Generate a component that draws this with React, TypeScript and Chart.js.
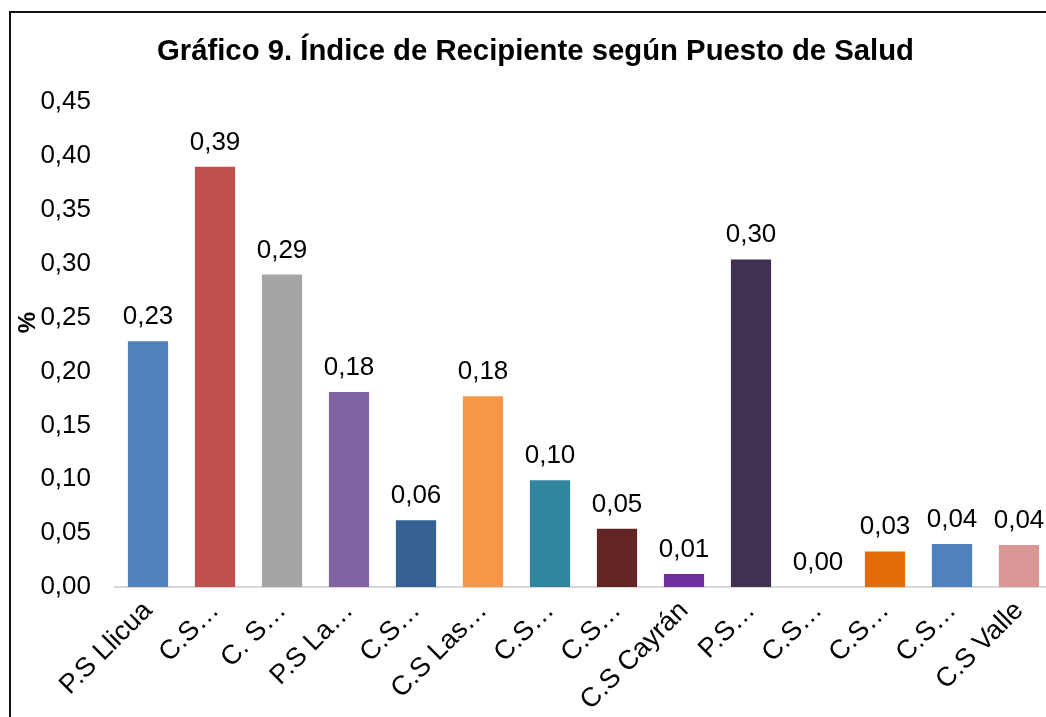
import React, { useEffect, useRef } from "react";
import { Chart, registerables } from "chart.js";

Chart.register(...registerables);

const titleText = "Gráfico 9. Índice de Recipiente según Puesto de Salud";
const yAxisTitle = "%";
const categories = [
  "P.S Llicua",
  "C.S…",
  "C. S…",
  "P.S La…",
  "C.S…",
  "C.S Las…",
  "C.S…",
  "C.S…",
  "C.S Cayrán",
  "P.S…",
  "C.S…",
  "C.S…",
  "C.S…",
  "C.S Valle",
];
const values = [0.228, 0.39, 0.29, 0.181, 0.062, 0.177, 0.099, 0.054, 0.012, 0.304, 0.0, 0.033, 0.04, 0.039];
const barColors = [
  "#4F81BD",
  "#C0504D",
  "#A5A5A5",
  "#8064A2",
  "#366092",
  "#F79646",
  "#31859C",
  "#632523",
  "#7030A0",
  "#403152",
  "#4BACC6",
  "#E36C09",
  "#4F81BD",
  "#D99694",
];
const yMin = 0;
const yMax = 0.45;
const yStep = 0.05;

const FONT = "'Liberation Sans', Arial, sans-serif";
const fmt = (v: number) => v.toFixed(2).replace(".", ",");

const dataLabelPlugin = {
  id: "dataLabels",
  afterDatasetsDraw(chart: any) {
    const ctx = chart.ctx;
    const meta = chart.getDatasetMeta(0);
    ctx.save();
    ctx.font = `26px ${FONT}`;
    ctx.fillStyle = "#000";
    ctx.textAlign = "center";
    ctx.textBaseline = "alphabetic";
    meta.data.forEach((el: any, i: number) => {
      ctx.fillText(fmt(values[i]), el.x, el.y - 17);
    });
    ctx.restore();
  },
};

const yTitlePlugin = {
  id: "yTitle",
  afterDraw(chart: any) {
    const ctx = chart.ctx;
    const area = chart.chartArea;
    ctx.save();
    ctx.font = `bold 24px ${FONT}`;
    ctx.fillStyle = "#000";
    ctx.textAlign = "center";
    ctx.textBaseline = "middle";
    ctx.translate(28, (area.top + area.bottom) / 2 - 22);
    ctx.rotate(-Math.PI / 2);
    ctx.fillText(yAxisTitle, 0, 0);
    ctx.restore();
  },
};

export default function App() {
  const ref = useRef<HTMLCanvasElement | null>(null);
  useEffect(() => {
    if (!ref.current) return;
    const chart = new Chart(ref.current, {
      type: "bar",
      data: {
        labels: categories,
        datasets: [
          {
            data: values,
            backgroundColor: barColors,
            borderWidth: 0,
            barPercentage: 0.6,
            categoryPercentage: 1,
          },
        ],
      },
      options: {
        animation: false,
        responsive: false,
        maintainAspectRatio: false,
        layout: { padding: { left: 18.5, right: 7.5, top: 0, bottom: 0 } },
        plugins: {
          legend: { display: false },
          tooltip: { enabled: false },
          title: {
            display: true,
            text: titleText,
            color: "#000",
            font: { family: FONT, size: 29.3, weight: "bold" },
            padding: { top: 34, bottom: 33 },
          },
        },
        scales: {
          x: {
            grid: { display: false, drawTicks: false },
            border: { display: true, color: "#D9D9D9", width: 2 },
            ticks: {
              color: "#000",
              font: { family: FONT, size: 27 },
              minRotation: 45,
              maxRotation: 45,
              autoSkip: false,
              padding: 8,
            },
            afterFit: (scale: any) => {
              scale.height = 130;
            },
          },
          y: {
            min: yMin,
            max: yMax,
            grid: { display: false, drawTicks: false },
            border: { display: false },
            ticks: {
              stepSize: yStep,
              color: "#000",
              font: { family: FONT, size: 26 },
              padding: 23.5,
              callback: (v: any) => fmt(Number(v)),
            },
            afterFit: (scale: any) => {
              scale.width = 96;
            },
          },
        },
      },
      plugins: [dataLabelPlugin, yTitlePlugin],
    });
    return () => chart.destroy();
  }, []);

  return (
    <div
      style={{
        position: "fixed",
        left: 0,
        top: 0,
        width: 1046,
        height: 717,
        overflow: "hidden",
        background: "#fff",
      }}
    >
      <div
        style={{
          position: "absolute",
          left: 9,
          top: 11,
          width: 1100,
          height: 800,
          border: "2px solid #111",
          boxSizing: "border-box",
        }}
      />
      <canvas
        ref={ref}
        width={1060}
        height={717}
        style={{ position: "absolute", left: 0, top: 0, width: 1060, height: 717 }}
      />
    </div>
  );
}
